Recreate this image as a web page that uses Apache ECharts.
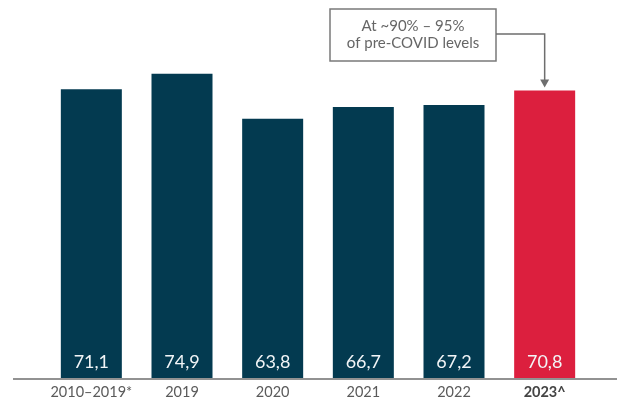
<!DOCTYPE html>
<html>
<head>
<meta charset="utf-8">
<script src="https://cdn.jsdelivr.net/npm/echarts@6/dist/echarts.min.js"></script>
<style>
  html, body { margin: 0; padding: 0; background: #ffffff; }
  #chart { width: 623px; height: 401px; }
</style>
</head>
<body>
<div id="chart"></div>
<script>
// Passenger volumes by year (decimal comma in labels)
const categories = ['2010–2019*', '2019', '2020', '2021', '2022', '2023^'];
const values = [71.1, 74.9, 63.8, 66.7, 67.2, 70.8];
const highlightCategory = '2023^';
const noteLines = ['At ~90% – 95%', 'of pre-COVID levels'];

const NAVY = '#033a50';
const RED = '#dc1f3e';
const FONT = 'Lato, "Noto Sans", sans-serif';

const chart = echarts.init(document.getElementById('chart'), null, { renderer: 'canvas' });

const option = {
  animation: false,
  backgroundColor: '#ffffff',
  grid: { left: 46, right: 33, top: 53, bottom: 23, containLabel: false },
  xAxis: {
    type: 'category',
    data: categories,
    axisLine: { show: false },
    axisTick: { show: false },
    axisLabel: {
      interval: 0,
      hideOverlap: false,
      margin: 7,
      fontFamily: FONT,
      formatter: v => (v === highlightCategory ? '{b|' + v + '}' : '{a|' + v + '}'),
      rich: {
        a: { fontFamily: FONT, fontSize: 14.5, color: '#5a5a5a' },
        b: { fontFamily: FONT, fontSize: 14.5, color: '#444444', fontWeight: 'bold' }
      }
    }
  },
  yAxis: {
    type: 'value',
    min: 0,
    max: 80,
    show: false,
    splitLine: { show: false }
  },
  series: [{
    type: 'bar',
    barWidth: 61,
    data: values.map((v, i) => ({
      value: v,
      itemStyle: { color: categories[i] === highlightCategory ? RED : NAVY }
    })),
    label: {
      show: true,
      position: 'insideBottom',
      distance: 7,
      color: '#f2f5f7',
      fontFamily: FONT,
      fontSize: 18,
      formatter: p => p.value.toFixed(1).replace('.', ',')
    }
  }]
};

chart.setOption(option);

// Baseline spanning the full width, note box and arrow to the highlighted bar
const hiIndex = categories.indexOf(highlightCategory);
const baseY = chart.convertToPixel({ yAxisIndex: 0 }, 0);
const barX = chart.convertToPixel({ xAxisIndex: 0 }, hiIndex);
const barTop = chart.convertToPixel({ yAxisIndex: 0 }, values[hiIndex]);

const box = { x: 330, y: 9, w: 166, h: 52 };
const connY = 34;
const tipY = barTop - 3;

chart.setOption({
  graphic: [
    {
      type: 'line',
      shape: { x1: 13, y1: baseY + 1, x2: 617, y2: baseY + 1 },
      style: { stroke: '#6e6e6e', lineWidth: 1.3 },
      z: 10
    },
    {
      type: 'rect',
      shape: { x: box.x, y: box.y, width: box.w, height: box.h },
      style: { fill: '#ffffff', stroke: '#7a7a7a', lineWidth: 1.5 },
      z: 10
    },
    {
      type: 'text',
      x: box.x + box.w / 2,
      y: box.y + box.h / 2,
      style: {
        text: noteLines.join('\n'),
        fill: '#666666',
        font: '15px ' + FONT,
        lineHeight: 17,
        align: 'center',
        verticalAlign: 'middle'
      },
      z: 11
    },
    {
      type: 'polyline',
      shape: { points: [[box.x + box.w, connY], [barX, connY], [barX, tipY - 7]] },
      style: { stroke: '#6e6e6e', lineWidth: 1.5, fill: null },
      z: 10
    },
    {
      type: 'polygon',
      shape: { points: [[barX - 4.5, tipY - 8], [barX + 4.5, tipY - 8], [barX, tipY]] },
      style: { fill: '#6e6e6e' },
      z: 10
    }
  ]
});
</script>
</body>
</html>
